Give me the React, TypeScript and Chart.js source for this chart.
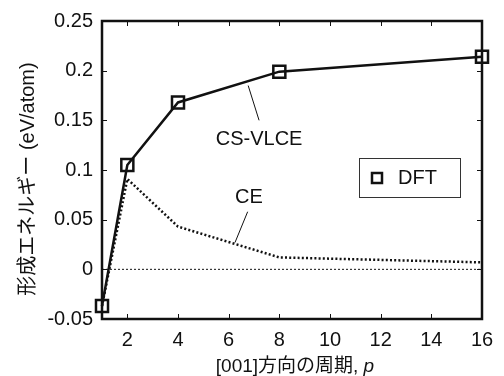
import React, { useEffect, useRef } from "react";
import { Chart, registerables } from "chart.js";

Chart.register(...registerables);

const periods = [1, 2, 4, 8, 16];
const dftValues = [-0.037, 0.105, 0.168, 0.199, 0.214];
const ceValues = [-0.037, 0.091, 0.043, 0.012, 0.007];
const zeroLine = [0, 0];
const zeroRange = [1, 16];
const xTicks = [2, 4, 6, 8, 10, 12, 14, 16];
const yTicks = [-0.05, 0, 0.05, 0.1, 0.15, 0.2, 0.25];
const xTitleMain = "[001]方向の周期, ";
const xTitleVar = "p";
const yTitle = "形成エネルギー (eV/atom)";
const legendLabel = "DFT";
const noteCSVLCE = "CS-VLCE";
const noteCE = "CE";

const FONT = "'Liberation Sans', Arial, 'Noto Sans CJK JP', sans-serif";
const INK = "#111";

const decorPlugin = {
  id: "decor",
  beforeDatasetsDraw(chart: any) {
    const { ctx, chartArea: a, scales } = chart;
    const xs = scales.x;
    const ys = scales.y;
    ctx.save();
    ctx.strokeStyle = INK;
    ctx.lineWidth = 1;
    const tl = 5;
    xTicks.forEach((v) => {
      const px = Math.round(xs.getPixelForValue(v)) + 0.5;
      ctx.beginPath();
      ctx.moveTo(px, a.bottom);
      ctx.lineTo(px, a.bottom - tl);
      ctx.moveTo(px, a.top);
      ctx.lineTo(px, a.top + tl);
      ctx.stroke();
    });
    yTicks.forEach((v) => {
      const py = Math.round(ys.getPixelForValue(v)) + 0.5;
      ctx.beginPath();
      ctx.moveTo(a.left, py);
      ctx.lineTo(a.left + tl, py);
      ctx.moveTo(a.right, py);
      ctx.lineTo(a.right - tl, py);
      ctx.stroke();
    });
    ctx.lineWidth = 2.5;
    ctx.strokeRect(a.left, a.top, a.right - a.left, a.bottom - a.top);
    ctx.restore();
  },
  afterDraw(chart: any) {
    const { ctx, chartArea: a, scales } = chart;
    const xs = scales.x;
    const ys = scales.y;
    ctx.save();
    ctx.fillStyle = INK;
    ctx.strokeStyle = INK;

    // annotations
    ctx.font = `20px ${FONT}`;
    ctx.textAlign = "center";
    ctx.textBaseline = "middle";
    ctx.fillText(noteCSVLCE, xs.getPixelForValue(7.2), ys.getPixelForValue(0.131));
    ctx.lineWidth = 1;
    ctx.beginPath();
    ctx.moveTo(xs.getPixelForValue(6.77), ys.getPixelForValue(0.185));
    ctx.lineTo(xs.getPixelForValue(7.2), ys.getPixelForValue(0.15));
    ctx.stroke();

    ctx.fillText(noteCE, xs.getPixelForValue(6.8), ys.getPixelForValue(0.072));
    ctx.beginPath();
    ctx.moveTo(xs.getPixelForValue(6.75), ys.getPixelForValue(0.058));
    ctx.lineTo(xs.getPixelForValue(6.25), ys.getPixelForValue(0.027));
    ctx.stroke();

    // legend
    const lx = a.right - 123;
    const ly = a.top + 137;
    ctx.lineWidth = 1;
    ctx.strokeStyle = "#333";
    ctx.strokeRect(lx + 0.5, ly + 0.5, 101, 39);
    ctx.strokeStyle = INK;
    ctx.lineWidth = 2.5;
    ctx.strokeRect(lx + 13, ly + 15, 10, 10);
    ctx.textAlign = "left";
    ctx.fillText(legendLabel, lx + 39, ly + 20.5);

    // y title
    ctx.save();
    ctx.translate(28, (a.top + a.bottom) / 2 + 9);
    ctx.rotate(-Math.PI / 2);
    ctx.textAlign = "center";
    ctx.textBaseline = "middle";
    ctx.font = `20px ${FONT}`;
    ctx.fillText(yTitle, 0, 0);
    ctx.restore();

    // x title (mixed style)
    const fs = 19;
    ctx.textBaseline = "alphabetic";
    ctx.textAlign = "left";
    ctx.font = `${fs}px ${FONT}`;
    const w1 = ctx.measureText(xTitleMain).width;
    ctx.font = `italic ${fs}px ${FONT}`;
    const w2 = ctx.measureText(xTitleVar).width;
    const cx = (a.left + a.right) / 2 + 3;
    const start = cx - (w1 + w2) / 2;
    const by = a.bottom + 53;
    ctx.font = `${fs}px ${FONT}`;
    ctx.fillText(xTitleMain, start, by);
    ctx.font = `italic ${fs}px ${FONT}`;
    ctx.fillText(xTitleVar, start + w1, by);
    ctx.restore();
  },
};

export default function App() {
  const ref = useRef<HTMLCanvasElement | null>(null);
  useEffect(() => {
    if (!ref.current) return;
    const chart = new Chart(ref.current, {
      type: "line",
      data: {
        datasets: [
          {
            label: "DFT",
            data: periods.map((p, i) => ({ x: p, y: dftValues[i] })),
            borderColor: INK,
            borderWidth: 2.5,
            pointStyle: "rect",
            pointRadius: 8.5,
            pointBorderWidth: 2.5,
            pointBorderColor: INK,
            pointBackgroundColor: "rgba(0,0,0,0)",
            tension: 0,
            clip: false,
          } as any,
          {
            label: "CE",
            data: periods.map((p, i) => ({ x: p, y: ceValues[i] })),
            borderColor: INK,
            borderWidth: 2.5,
            borderDash: [2, 2.2],
            pointRadius: 0,
            tension: 0,
            clip: false,
          } as any,
          {
            label: "zero",
            data: zeroRange.map((p, i) => ({ x: p, y: zeroLine[i] })),
            borderColor: INK,
            borderWidth: 1,
            borderDash: [2, 2],
            pointRadius: 0,
          } as any,
        ],
      },
      options: {
        responsive: false,
        animation: false,
        devicePixelRatio: 1,
        layout: { padding: { top: 21, right: 22, left: 0, bottom: 0 } },
        plugins: { legend: { display: false }, tooltip: { enabled: false } },
        scales: {
          x: {
            type: "linear",
            min: 1,
            max: 16,
            afterBuildTicks: (s: any) => {
              s.ticks = xTicks.map((v) => ({ value: v }));
            },
            afterFit: (s: any) => {
              s.height = 57;
            },
            grid: { display: false, drawTicks: false },
            border: { display: false },
            ticks: {
              padding: 9,
              color: INK,
              font: { family: FONT, size: 20 },
              maxRotation: 0,
              autoSkip: false,
            },
          },
          y: {
            type: "linear",
            min: -0.05,
            max: 0.25,
            afterBuildTicks: (s: any) => {
              s.ticks = yTicks.map((v) => ({ value: v }));
            },
            afterFit: (s: any) => {
              s.width = 102;
            },
            grid: { display: false, drawTicks: false },
            border: { display: false },
            ticks: {
              padding: 9,
              color: INK,
              font: { family: FONT, size: 20 },
              callback: (v: any) => String(Number(Number(v).toFixed(2))),
            },
          },
        },
      } as any,
      plugins: [decorPlugin],
    });
    return () => chart.destroy();
  }, []);
  return (
    <div style={{ position: "absolute", left: 0, top: 0, width: 504, height: 376, background: "#fff" }}>
      <canvas ref={ref} width={504} height={376} style={{ width: 504, height: 376 }} />
    </div>
  );
}
